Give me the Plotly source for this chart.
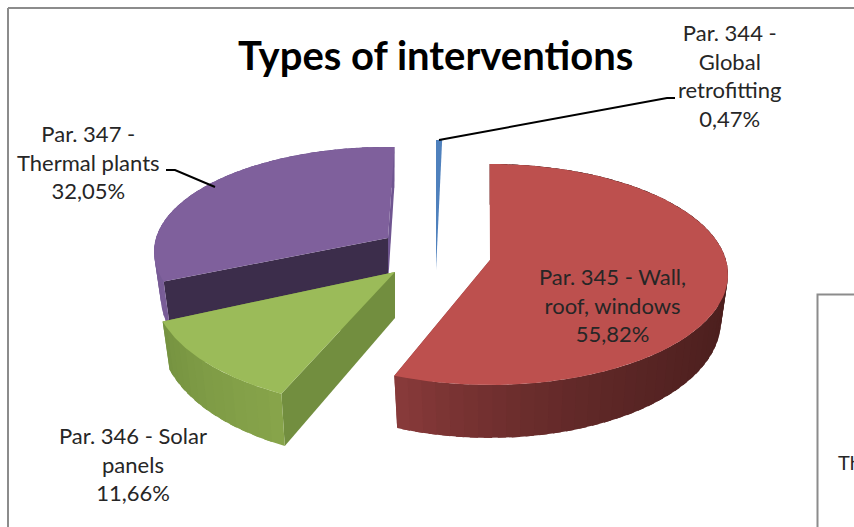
import numpy as np
import plotly.graph_objects as go

# values
names = ["Par. 344 -<br>Global<br>retrofitting", "Par. 345 - Wall,<br>roof, windows",
         "Par. 346 - Solar<br>panels", "Par. 347 -<br>Thermal plants"]
shares = [0.47, 55.82, 11.66, 32.05]
title = "Types of interventions"

# exploded 3d look: apex x, apex y, radius x, radius y, angle tweak per slice
view = [
    dict(cx=436, cy=270, rx=236, ry=147, rot=0),
    dict(cx=490, cy=260, rx=236, ry=108.6, rot=-1.8),
    dict(cx=395, cy=272, rx=240, ry=118, rot=2),
    dict(cx=388, cy=238, rx=232, ry=103, rot=1.8),
]
top_colors = ["#4f81bd", "#bd504e", "#9bbb59", "#7f609c"]
wall_colors = [None, ("#471d1c", "#8a3b3b", 4), ("#88a54b", "#769341", 1), ("#7a5e98", "#6f5590", 1)]
cut_colors = [None, None, "#728e3f", "#3c2d4b"]
persp = 0.131
depth = 46
# pixel positions of the texts
label_pos = [(730, 75), (612, 305), (133, 464), (88, 162)]
font = "Lato"

edges = np.cumsum([0] + shares) / sum(shares) * 360


def project(i, t, r=1.0):
    v = view[i]
    a = np.radians(np.asarray(t) + v["rot"])
    X, Y = r * np.sin(a), -r * np.cos(a)
    s = 1 / (1 - persp * Y)
    return v["cx"] + v["rx"] * X * s, v["cy"] + v["ry"] * Y * s, s


def lower(i, px, py, s):
    cx = view[i]["cx"]
    return cx + (px - cx) * 0.97, py + depth * s


def mix(c0, c1, f):
    a = [int(c0[j:j + 2], 16) for j in (1, 3, 5)]
    b = [int(c1[j:j + 2], 16) for j in (1, 3, 5)]
    return "rgb(%d,%d,%d)" % tuple(a[j] + (b[j] - a[j]) * f for j in range(3))


def poly(x, y, color):
    return go.Scatter(x=list(x), y=list(y), mode="lines", fill="toself", fillcolor=color,
                      line=dict(color=color, width=0), hoverinfo="skip", showlegend=False)


fig = go.Figure()

# back to front
for i in [3, 2, 0, 1]:
    t0, t1 = edges[i], edges[i + 1]
    if wall_colors[i]:
        c0, c1, power = wall_colors[i]
        v = view[i]
        # cut faces first, the rim wall paints over their outer edge
        for t, color in ((t1, c1), (t0, cut_colors[i])):
            if color:
                px, py, s = project(i, t)
                qx, qy = lower(i, px, py, s)
                ax, ay = v["cx"], v["cy"]
                fig.add_trace(poly([ax, px, qx, ax], [ay, py, qy, ay + depth], color))
        steps = max(int((t1 - t0) / 3), 2)
        ts = np.linspace(t0, t1, steps + 1)
        step = ts[1] - ts[0]
        # each band runs on under the next one so no seams show
        for a in ts[:-1]:
            b = min(a + step * 1.6, t1)
            tt = np.linspace(a, b, 5)
            px, py, s = project(i, tt)
            qx, qy = lower(i, px, py, s)
            f = (a + step / 2 - t0) / (t1 - t0)
            fig.add_trace(poly(np.r_[px, qx[::-1]], np.r_[py, qy[::-1]], mix(c0, c1, f ** power)))
    tt = np.linspace(t0, t1, 80)
    px, py, s = project(i, tt)
    fig.add_trace(poly(np.r_[view[i]["cx"], px], np.r_[view[i]["cy"], py], top_colors[i]))

for i, name in enumerate(names):
    pct = f"{shares[i]:.2f}".replace(".", ",") + "%"
    fig.add_annotation(x=label_pos[i][0], y=label_pos[i][1], text=f"{name}<br>{pct}", showarrow=False,
                       font=dict(family=font, size=22, color="#262626"), align="center")

fig.add_annotation(x=435, y=55, text=f"<b>{title}</b>", showarrow=False,
                   font=dict(family=font, size=40, color="#000000"))

# leader lines
for xs, ys in (([439, 667, 675], [140, 98, 98]), ([166, 175, 215], [170, 170, 187])):
    fig.add_trace(go.Scatter(x=xs, y=ys, mode="lines", line=dict(color="#000000", width=2),
                             hoverinfo="skip", showlegend=False))

# chart frame and the box of the next chart behind it
frame = "#8c8c8c"
fig.add_shape(type="line", x0=8, x1=854, y0=8, y1=8, line=dict(color=frame, width=2))
fig.add_shape(type="line", x0=8, x1=8, y0=8, y1=527, line=dict(color=frame, width=2))
fig.add_shape(type="rect", x0=817.5, x1=870, y0=294.5, y1=540, fillcolor="#ffffff", line=dict(color=frame, width=2))
fig.add_annotation(x=836, y=462, text="Th", xanchor="left", showarrow=False,
                   font=dict(family=font, size=20, color="#262626"))

fig.update_xaxes(range=[0, 854], visible=False, fixedrange=True)
fig.update_yaxes(range=[527, 0], visible=False, fixedrange=True)
fig.update_layout(width=854, height=527, margin=dict(l=0, r=0, t=0, b=0), showlegend=False,
                  paper_bgcolor="#ffffff", plot_bgcolor="#ffffff")

fig.write_html("out.html", config=dict(displayModeBar=False),
               post_script="document.body.style.margin='0'; document.body.style.overflow='hidden';")
